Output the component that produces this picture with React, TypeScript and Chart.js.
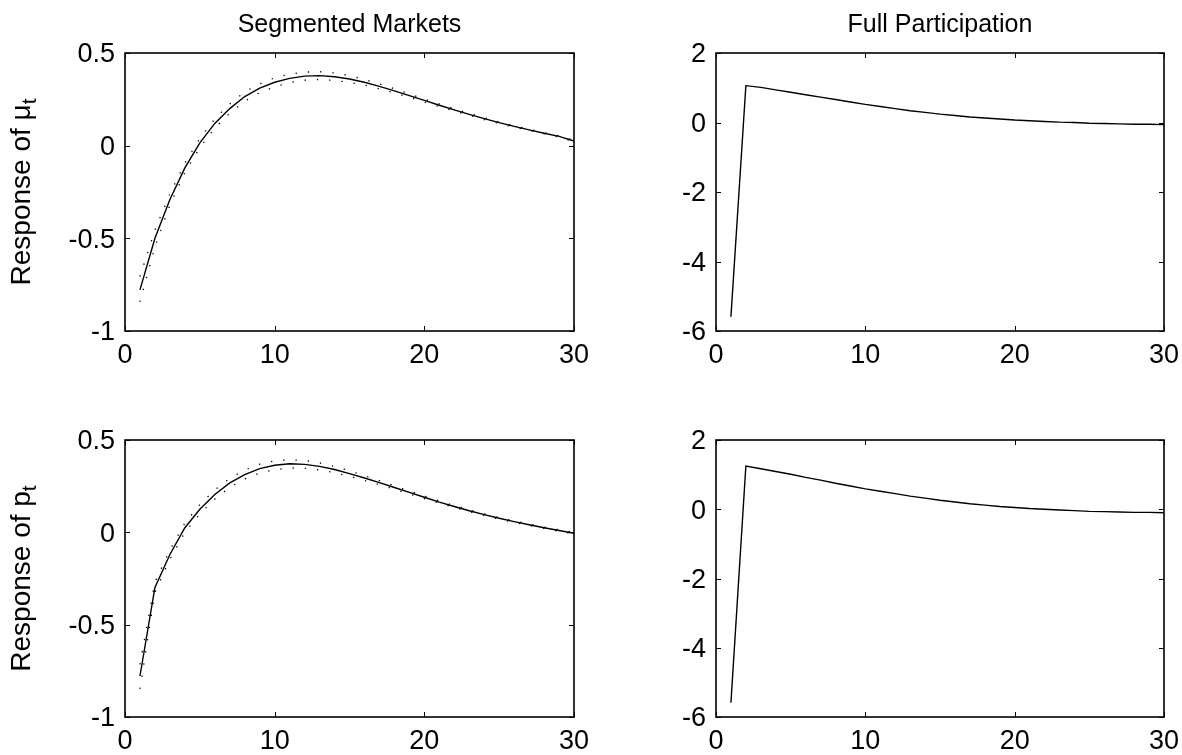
import React, { useEffect, useRef } from "react";
import { Chart, registerables } from "chart.js";

Chart.register(...registerables);

// ---------- data ----------
const periods = Array.from({ length: 30 }, (_, i) => i + 1);

const segMu = [-0.778, -0.5, -0.29, -0.12, 0.015, 0.12, 0.2, 0.265, 0.31, 0.342, 0.363, 0.375, 0.378, 0.372, 0.36, 0.342, 0.32, 0.296, 0.27, 0.244, 0.218, 0.193, 0.169, 0.146, 0.124, 0.104, 0.085, 0.067, 0.05, 0.025];
const segMuUpper = [-0.706, -0.455, -0.26, -0.095, 0.04, 0.145, 0.225, 0.29, 0.334, 0.366, 0.386, 0.397, 0.399, 0.392, 0.378, 0.357, 0.333, 0.307, 0.279, 0.252, 0.225, 0.199, 0.174, 0.151, 0.128, 0.108, 0.089, 0.07, 0.053, 0.029];
const segMuLower = [-0.843, -0.545, -0.32, -0.145, -0.01, 0.095, 0.175, 0.24, 0.286, 0.318, 0.34, 0.353, 0.357, 0.352, 0.342, 0.327, 0.307, 0.285, 0.261, 0.236, 0.211, 0.187, 0.164, 0.141, 0.12, 0.1, 0.081, 0.064, 0.047, 0.021];

const segP = [-0.778, -0.298, -0.12, 0.025, 0.125, 0.205, 0.268, 0.313, 0.345, 0.363, 0.371, 0.368, 0.357, 0.34, 0.318, 0.294, 0.269, 0.243, 0.216, 0.19, 0.164, 0.14, 0.117, 0.096, 0.076, 0.058, 0.041, 0.025, 0.01, -0.005];
const segPUpper = [-0.715, -0.27, -0.095, 0.05, 0.15, 0.23, 0.293, 0.337, 0.369, 0.387, 0.393, 0.389, 0.376, 0.357, 0.333, 0.307, 0.28, 0.252, 0.224, 0.197, 0.17, 0.145, 0.122, 0.1, 0.08, 0.062, 0.045, 0.029, 0.014, -0.001];
const segPLower = [-0.848, -0.326, -0.145, 0.0, 0.1, 0.18, 0.243, 0.289, 0.321, 0.339, 0.349, 0.347, 0.338, 0.323, 0.303, 0.281, 0.258, 0.234, 0.208, 0.183, 0.158, 0.135, 0.112, 0.092, 0.072, 0.054, 0.037, 0.021, 0.006, -0.009];

const fullMu = [-5.59, 1.06, 1.01, 0.94, 0.87, 0.8, 0.73, 0.66, 0.59, 0.52, 0.46, 0.4, 0.34, 0.29, 0.24, 0.2, 0.16, 0.13, 0.1, 0.07, 0.05, 0.03, 0.01, 0.0, -0.02, -0.03, -0.04, -0.05, -0.05, -0.06];
const fullP = [-5.59, 1.25, 1.17, 1.09, 1.01, 0.92, 0.84, 0.75, 0.67, 0.59, 0.52, 0.45, 0.38, 0.32, 0.26, 0.21, 0.16, 0.12, 0.08, 0.05, 0.02, 0.0, -0.02, -0.04, -0.06, -0.07, -0.08, -0.09, -0.09, -0.1];

const xTicks = [0, 10, 20, 30];
const segYTicks = [-1, -0.5, 0, 0.5];
const fullYTicks = [-6, -4, -2, 0, 2];

const titleLeft = "Segmented Markets";
const titleRight = "Full Participation";
const yLabelTopMain = "Response of μ";
const yLabelBottomMain = "Response of p";
const yLabelSub = "t";

// ---------- layout ----------
const FONT = "'Liberation Sans', Arial, Helvetica, sans-serif";
const TICK_SIZE = 27;
const TITLE_SIZE = 25;
const LABEL_SIZE = 28;
const PAD_L = 125;
const PAD_T = 53;
const PAD_R = 18;
const PAD_B = 38;

type Panel = {
  key: string;
  left: number;
  top: number;
  w: number;
  h: number;
  yMin: number;
  yMax: number;
  yTicks: number[];
  main: number[];
  upper?: number[];
  lower?: number[];
  title?: string;
  yLabel?: string;
};

const panels: Panel[] = [
  { key: "tl", left: 125, top: 53, w: 449, h: 278, yMin: -1, yMax: 0.5, yTicks: segYTicks, main: segMu, upper: segMuUpper, lower: segMuLower, title: titleLeft, yLabel: yLabelTopMain },
  { key: "tr", left: 716, top: 53, w: 448, h: 278, yMin: -6, yMax: 2, yTicks: fullYTicks, main: fullMu, title: titleRight },
  { key: "bl", left: 125, top: 440, w: 449, h: 277, yMin: -1, yMax: 0.5, yTicks: segYTicks, main: segP, upper: segPUpper, lower: segPLower, yLabel: yLabelBottomMain },
  { key: "br", left: 716, top: 440, w: 448, h: 277, yMin: -6, yMax: 2, yTicks: fullYTicks, main: fullP },
];

const fmt = (v: number) => (v === 0 ? "0" : String(v));

const framePlugin = {
  id: "matlabFrame",
  afterDatasetsDraw(chart: any, _args: any, opts: any) {
    const { ctx, chartArea } = chart;
    const { left, right, top, bottom } = chartArea;
    const xs = chart.scales.x;
    const ys = chart.scales.y;
    ctx.save();
    ctx.strokeStyle = "#000";
    ctx.lineWidth = 1.6;
    ctx.strokeRect(left, top, right - left, bottom - top);
    ctx.lineWidth = 1;
    const tl = 5;
    ctx.beginPath();
    for (const v of xTicks) {
      const px = Math.round(xs.getPixelForValue(v)) + 0.5;
      ctx.moveTo(px, bottom);
      ctx.lineTo(px, bottom - tl);
      ctx.moveTo(px, top);
      ctx.lineTo(px, top + tl);
    }
    for (const v of opts.yTicks as number[]) {
      const py = Math.round(ys.getPixelForValue(v)) + 0.5;
      ctx.moveTo(left, py);
      ctx.lineTo(left + tl, py);
      ctx.moveTo(right, py);
      ctx.lineTo(right - tl, py);
    }
    ctx.stroke();

    if (opts.title) {
      ctx.fillStyle = "#000";
      ctx.font = `${TITLE_SIZE}px ${FONT}`;
      ctx.textAlign = "center";
      ctx.textBaseline = "alphabetic";
      ctx.fillText(opts.title, (left + right) / 2, top - 21);
    }
    if (opts.yLabel) {
      ctx.fillStyle = "#000";
      const subSize = Math.round(LABEL_SIZE * 0.75);
      ctx.font = `${LABEL_SIZE}px ${FONT}`;
      const mainW = ctx.measureText(opts.yLabel).width;
      ctx.font = `${subSize}px ${FONT}`;
      const subW = ctx.measureText(yLabelSub).width;
      const total = mainW + subW;
      const cy = (top + bottom) / 2;
      ctx.translate(left - 95, cy);
      ctx.rotate(-Math.PI / 2);
      ctx.textAlign = "left";
      ctx.textBaseline = "alphabetic";
      ctx.font = `${LABEL_SIZE}px ${FONT}`;
      ctx.fillText(opts.yLabel, -total / 2, 0);
      ctx.font = `${subSize}px ${FONT}`;
      ctx.fillText(yLabelSub, -total / 2 + mainW, 6);
    }
    ctx.restore();
  },
};

function PanelChart({ p }: { p: Panel }) {
  const ref = useRef<HTMLCanvasElement | null>(null);
  useEffect(() => {
    if (!ref.current) return;
    const datasets: any[] = [];
    if (p.upper && p.lower) {
      for (const band of [p.upper, p.lower]) {
        datasets.push({
          data: band.map((y, i) => ({ x: periods[i], y })),
          borderColor: "#000",
          borderWidth: 1.3,
          borderDash: [1.3, 11],
          pointRadius: 0,
          tension: 0,
          fill: false,
        });
      }
    }
    datasets.push({
      data: p.main.map((y, i) => ({ x: periods[i], y })),
      borderColor: "#000",
      borderWidth: 1.4,
      pointRadius: 0,
      tension: 0,
      fill: false,
    });
    const chart = new Chart(ref.current, {
      type: "line",
      data: { datasets },
      plugins: [framePlugin],
      options: {
        animation: false,
        responsive: false,
        maintainAspectRatio: false,
        events: [],
        layout: { padding: { left: 0, top: PAD_T, right: PAD_R, bottom: 0 } },
        plugins: {
          legend: { display: false },
          tooltip: { enabled: false },
          title: { display: false },
          matlabFrame: { yTicks: p.yTicks, title: p.title, yLabel: p.yLabel },
        } as any,
        scales: {
          x: {
            type: "linear",
            min: 0,
            max: 30,
            afterBuildTicks: (s: any) => {
              s.ticks = xTicks.map((v) => ({ value: v }));
            },
            afterFit: (s: any) => {
              s.height = PAD_B;
              s.paddingLeft = 0;
              s.paddingRight = 0;
            },
            grid: { display: false, drawTicks: false },
            border: { display: false },
            ticks: {
              color: "#000",
              font: { family: FONT, size: TICK_SIZE },
              padding: 8,
              maxRotation: 0,
              autoSkip: false,
              callback: (v: any) => fmt(Number(v)),
            },
          },
          y: {
            type: "linear",
            min: p.yMin,
            max: p.yMax,
            afterBuildTicks: (s: any) => {
              s.ticks = p.yTicks.map((v) => ({ value: v }));
            },
            afterFit: (s: any) => {
              s.width = PAD_L;
              s.paddingTop = 0;
              s.paddingBottom = 0;
            },
            grid: { display: false, drawTicks: false },
            border: { display: false },
            ticks: {
              color: "#000",
              font: { family: FONT, size: TICK_SIZE },
              padding: 10,
              labelOffset: 2,
              autoSkip: false,
              callback: (v: any) => fmt(Number(v)),
            },
          },
        },
      },
    });
    return () => chart.destroy();
  }, [p]);
  const cw = p.w + PAD_L + PAD_R;
  const ch = p.h + PAD_T + PAD_B;
  return (
    <canvas
      ref={ref}
      width={cw}
      height={ch}
      style={{ position: "absolute", left: p.left - PAD_L, top: p.top - PAD_T, width: cw, height: ch }}
    />
  );
}

export default function App() {
  return (
    <div style={{ position: "fixed", left: 0, top: 0, width: 1182, height: 755, background: "#fff", overflow: "hidden" }}>
      {panels.map((p) => (
        <PanelChart key={p.key} p={p} />
      ))}
    </div>
  );
}
